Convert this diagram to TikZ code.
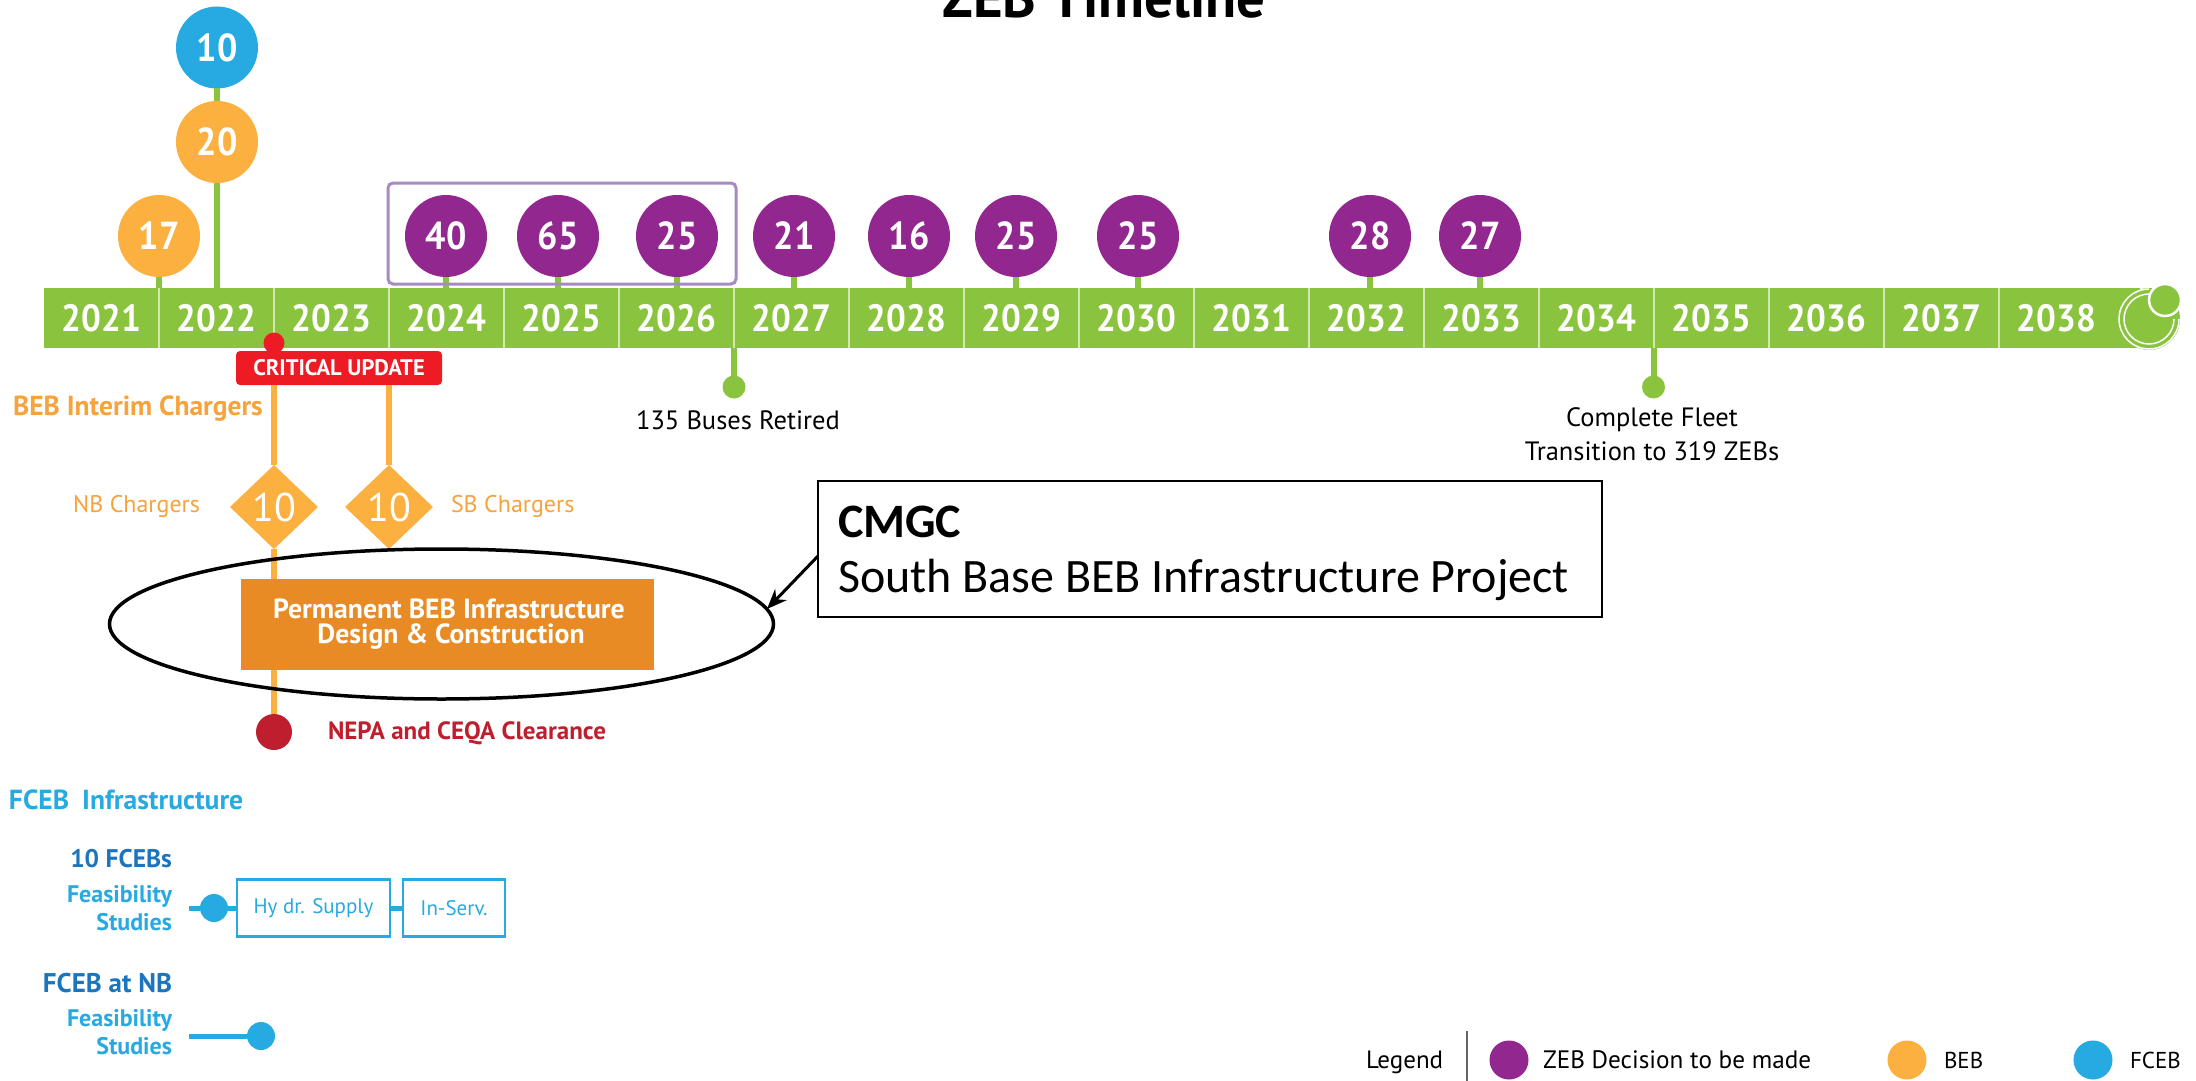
\documentclass[tikz,border=0pt]{standalone}
\usepackage{fontspec}
\setmainfont{PT Sans}
\newfontfamily\cnd[FakeStretch=0.92]{PT Sans}
\newfontfamily\calib{Carlito}
\usetikzlibrary{shapes.geometric,arrows.meta}
\definecolor{zgreen}{HTML}{8AC43F}
\definecolor{zdiv}{HTML}{D3E8AE}
\definecolor{zorange}{HTML}{FBB040}
\definecolor{zlabel}{HTML}{F7A23B}
\definecolor{zpurple}{HTML}{92278F}
\definecolor{zframe}{HTML}{A68BC2}
\definecolor{zblue}{HTML}{27AAE1}
\definecolor{zdblue}{HTML}{1C75BC}
\definecolor{zbox}{HTML}{E88B25}
\definecolor{zred}{HTML}{ED1C24}
\definecolor{zdred}{HTML}{BE1E2D}
\newcommand{\fsz}[1]{\fontsize{#1}{#1}\selectfont}
\tikzset{
  every node/.style={inner sep=0pt,outer sep=0pt},
  cell/.style={fill=zgreen,minimum width=115pt,minimum height=60pt,text=white,font=\cnd\fsz{38}\bfseries},
  divider/.style={zdiv,line width=1.6pt},
  bub/.style={circle,minimum size=82pt,text=white,font=\cnd\fsz{39}\bfseries},
  beb/.style={bub,fill=zorange},
  zeb/.style={bub,fill=zpurple},
  fceb/.style={bub,fill=zblue},
  stem/.style={zgreen,line width=6pt},
  oline/.style={zorange,line width=6pt},
  bline/.style={zblue,line width=5pt},
  gdot/.style={circle,fill=zgreen,minimum size=23pt},
  chg/.style={diamond,aspect=1.05,fill=zorange,minimum width=88pt,minimum height=84pt,text=white,font=\fsz{40}},
  blk/.style={text=black,font=\fsz{26.5}},
  orl/.style={text=zlabel,font=\fsz{24}},
  fl/.style={text=zblue,font=\fsz{24}\bfseries,anchor=east},
  fh/.style={text=zdblue,font=\fsz{27}\bfseries,anchor=east},
  fbox/.style={draw=zblue,line width=2.5pt,fill=white,minimum height=57pt,text=zblue,font=\fsz{21}},
  bdot/.style={circle,fill=zblue,minimum size=28pt},
  leg/.style={circle,minimum size=39pt},
  legt/.style={text=black,font=\fsz{23},anchor=west}
}
\begin{document}
\begin{tikzpicture}[x=1pt,y=-1pt]
\clip (0,0) rectangle (2196,1081);
% title
\node[anchor=base,font=\fsz{57}\bfseries] (title) at (1104,18) {ZEB Timeline};
% timeline
\foreach \yr [evaluate=\yr as \cx using {101.5+115*(\yr-2021)}] in {2021,...,2038}
  \node[cell] (y\yr) at (\cx,318) {\yr};
\node[circle,fill=zgreen,minimum size=62pt] (endcap) at (2149,319) {};
\fill[zgreen] (y2038.north east) rectangle (2140,348);
\foreach \yr in {2021,...,2037}
  \draw[divider] (y\yr.north east) -- (y\yr.south east);
\draw[white,line width=1.5pt] (2149,289) arc[start angle=-90,delta angle=-270,radius=30];
\draw[white,line width=1.5pt] (2149,294) arc[start angle=-90,delta angle=-270,radius=25];
\node[circle,fill=zgreen,draw=white,line width=2.5pt,minimum size=32pt] (enddot) at (2165,300) {};
% bubbles
\foreach \n/\x/\v in {a/446/40,b/558/65,c/677/25,d/794/21,e/909/16,f/1016/25,g/1138/25,h/1370/28,i/1480/27}
  \node[zeb] (z\n) at (\x,236) {\v};
\foreach \n in {a,b,c,d,e,f,g,h,i}
  \draw[stem] (z\n.south) -- (z\n |- y2021.north);
\node[beb] (b17) at (159,236) {17};
\node[beb] (b20) at (217,142) {20};
\node[fceb] (f10) at (217,47.5) {10};
\draw[stem] (b17.south) -- (b17 |- y2021.north);
\draw[stem] (b20.south) -- (b20 |- y2021.north);
\draw[stem] (f10.south) -- (b20.north);
\node[draw=zframe,line width=3pt,rounded corners=5pt,minimum width=348pt,minimum height=101pt] (frame) at (562,233.5) {};
% retired markers
\node[gdot] (ret) at (734,387) {};
\node[gdot] (fleet) at (1653.5,387) {};
\draw[stem] (ret |- y2026.south) -- (ret);
\draw[stem] (fleet |- y2034.south) -- (fleet);
\node[blk] (retl) at (738,420) {135 Buses Retired};
\node[blk] (fleetl) at (1652,420) {Complete Fleet};
\node[blk] (fleetm) at (1652,451) {Transition to 319 ZEBs};
% BEB
\node[circle,fill=zred,minimum size=21pt] (crit) at (274,343) {};
\node[fill=zred,rounded corners=4pt,minimum width=206pt,minimum height=34pt,text=white,font=\fsz{22.5}\bfseries] (critb) at (339,368) {CRITICAL UPDATE};
\node[chg] (nb) at (274,507) {10};
\node[chg] (sb) at (389,507) {10};
\node[fill=zbox,minimum width=413pt,minimum height=91pt] (perm) at (447.5,624) {};
\node[circle,fill=zdred,minimum size=36pt] (nepa) at (274,732) {};
\draw[oline] (nb |- critb.south) -- (nb.north);
\draw[oline] (sb |- critb.south) -- (sb.north);
\draw[oline] (nb.south) -- (nb |- perm.north);
\draw[oline] (nb |- perm.south) -- (nepa.north);
\node[text=white,font=\fsz{27.7}\bfseries] (perml) at (449,609) {Permanent BEB Infrastructure};
\node[text=white,font=\fsz{27.7}\bfseries] (permm) at (451,637) {Design \& Construction};
\node[text=zlabel,font=\fsz{27.5}\bfseries,anchor=west] (beblab) at (13,409) {BEB Interim Chargers};
\node[orl,anchor=east] (nbl) at (200,506) {NB Chargers};
\node[orl,anchor=west] (sbl) at (451,506) {SB Chargers};
\node[text=zdred,font=\fsz{25}\bfseries,anchor=west] (nepal) at (328,733) {NEPA and CEQA Clearance};
% ellipse and callout
\node[ellipse,draw=black,line width=3.5pt,minimum width=664pt,minimum height=150pt] (oval) at (441.5,624) {};
\node[draw=black,fill=white,line width=2pt,minimum width=784pt,minimum height=136pt] (call) at (1210,549) {};
\node[anchor=base west,font=\calib\fsz{48}\bfseries] (cmgc) at (838,537) {CMGC};
\node[anchor=base west,font=\calib\fsz{48}] (south) at (838,592) {South Base BEB Infrastructure Project};
\coordinate (arrs) at (818,556);
\coordinate (arre) at (767,609);
\draw[black,line width=3pt,-{Stealth[length=20pt,width=16pt]}] (arrs) -- (arre);
% FCEB
\node[text=zblue,font=\fsz{27.6}\bfseries,anchor=west] (fcebh) at (9,800) {FCEB\hspace{6pt} Infrastructure};
\node[fh,font=\fsz{25.5}\bfseries] (t10) at (172,859) {10 FCEBs};
\node[fl] (t11) at (172,896) {Feasibility};
\node[fl] (t12) at (172,922) {Studies};
\node[fbox,minimum width=153pt] (hyd) at (313.5,908) {Hy dr. Supply};
\node[fbox,minimum width=102pt] (srv) at (454,908) {In-Serv.};
\coordinate (fs1) at (189,908);
\node[bdot] (fd1) at (214,908) {};
\draw[bline] (fs1) -- (fd1);
\draw[bline] (fd1) -- (hyd.west);
\draw[bline] (hyd.east) -- (srv.west);
\node[fh] (t20) at (172,983) {FCEB at NB};
\node[fl] (t21) at (172,1020) {Feasibility};
\node[fl] (t22) at (172,1046) {Studies};
\coordinate (fs2) at (189,1036);
\node[bdot] (fd2) at (261,1036) {};
\draw[bline] (fs2) -- (fd2);
% legend
\node[legt,font=\fsz{25}] (lg) at (1366,1062) {Legend};
\coordinate (sep1) at (1467,1031);
\coordinate (sep2) at (1467,1081);
\draw[black!60,line width=1.5pt] (sep1) -- (sep2);
\node[leg,fill=zpurple] (l1) at (1509,1060) {};
\node[legt,font=\fsz{25.2}] (l1t) at (1543,1060) {ZEB Decision to be made};
\node[leg,fill=zorange] (l2) at (1907,1060) {};
\node[legt] (l2t) at (1944,1060) {BEB};
\node[leg,fill=zblue] (l3) at (2093,1060) {};
\node[legt] (l3t) at (2130,1060) {FCEB};
\end{tikzpicture}
\end{document}
